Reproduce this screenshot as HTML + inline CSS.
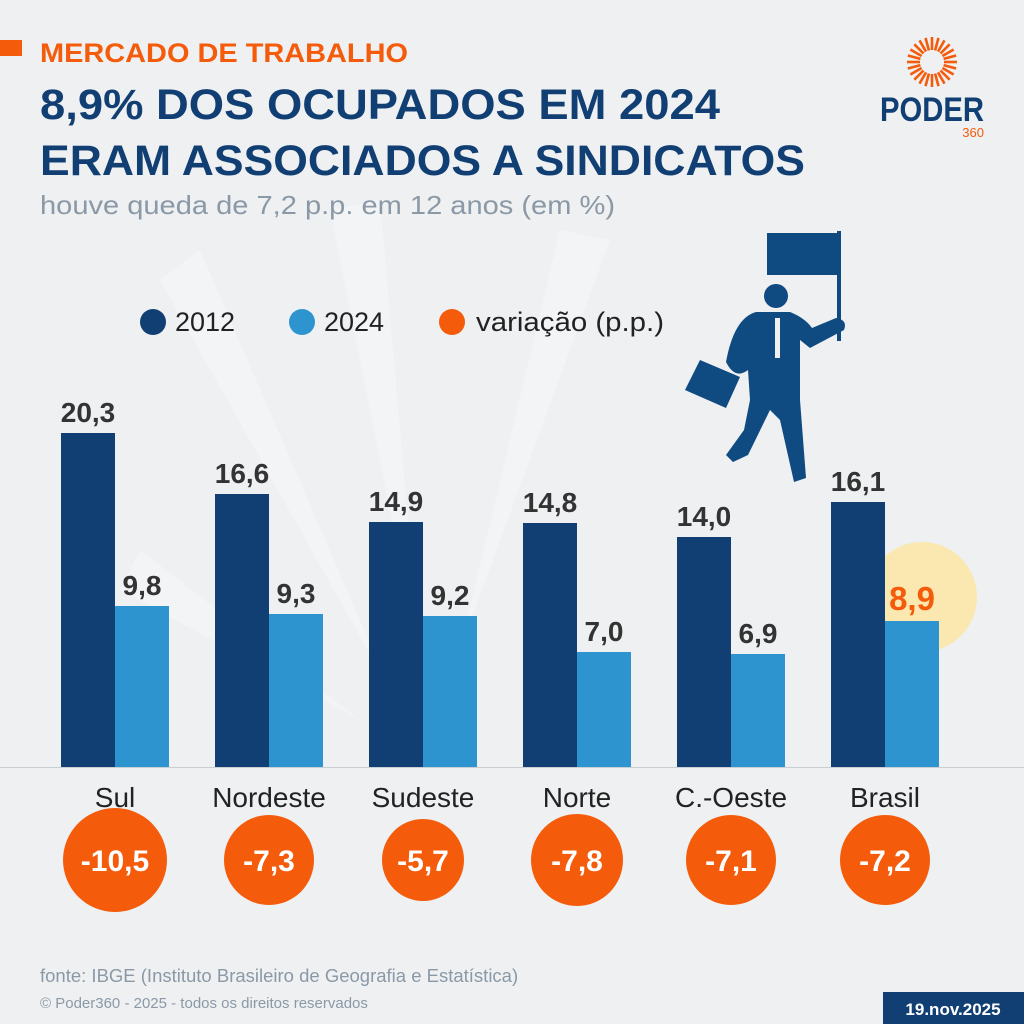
<!DOCTYPE html>
<html><head><meta charset="utf-8"><style>
body{margin:0;background:#eef0f2}
svg{display:block}
text{font-family:"Liberation Sans",sans-serif}
</style></head><body>
<svg width="1024" height="1024" viewBox="0 0 1024 1024">
<rect width="1024" height="1024" fill="#eef0f2"/>
<g fill="#f3f4f6">
<polygon points="390,690 160,280 200,250"/>
<polygon points="420,660 330,210 380,200"/>
<polygon points="460,650 560,230 610,240"/>
<polygon points="360,720 120,590 140,550"/>
</g>
<rect x="0" y="40" width="22" height="16" fill="#f45b0b"/>
<text x="40" y="62" font-size="27" font-weight="bold" fill="#f45b0b" textLength="368" lengthAdjust="spacingAndGlyphs">MERCADO DE TRABALHO</text>
<text x="40" y="119" font-size="43" font-weight="bold" fill="#123f73" textLength="680" lengthAdjust="spacingAndGlyphs">8,9% DOS OCUPADOS EM 2024</text>
<text x="40" y="175" font-size="43" font-weight="bold" fill="#123f73" textLength="765" lengthAdjust="spacingAndGlyphs">ERAM ASSOCIADOS A SINDICATOS</text>
<text x="40" y="214" font-size="26" fill="#8b99a6" textLength="575" lengthAdjust="spacingAndGlyphs">houve queda de 7,2 p.p. em 12 anos (em %)</text>
<g transform="translate(932,62)" stroke="#f45b0b" stroke-width="2.6">
<line x1="0" y1="-12" x2="0" y2="-25" transform="rotate(0)"/><line x1="0" y1="-12" x2="0" y2="-25" transform="rotate(15)"/><line x1="0" y1="-12" x2="0" y2="-25" transform="rotate(30)"/><line x1="0" y1="-12" x2="0" y2="-25" transform="rotate(45)"/><line x1="0" y1="-12" x2="0" y2="-25" transform="rotate(60)"/><line x1="0" y1="-12" x2="0" y2="-25" transform="rotate(75)"/><line x1="0" y1="-12" x2="0" y2="-25" transform="rotate(90)"/><line x1="0" y1="-12" x2="0" y2="-25" transform="rotate(105)"/><line x1="0" y1="-12" x2="0" y2="-25" transform="rotate(120)"/><line x1="0" y1="-12" x2="0" y2="-25" transform="rotate(135)"/><line x1="0" y1="-12" x2="0" y2="-25" transform="rotate(150)"/><line x1="0" y1="-12" x2="0" y2="-25" transform="rotate(165)"/><line x1="0" y1="-12" x2="0" y2="-25" transform="rotate(180)"/><line x1="0" y1="-12" x2="0" y2="-25" transform="rotate(195)"/><line x1="0" y1="-12" x2="0" y2="-25" transform="rotate(210)"/><line x1="0" y1="-12" x2="0" y2="-25" transform="rotate(225)"/><line x1="0" y1="-12" x2="0" y2="-25" transform="rotate(240)"/><line x1="0" y1="-12" x2="0" y2="-25" transform="rotate(255)"/><line x1="0" y1="-12" x2="0" y2="-25" transform="rotate(270)"/><line x1="0" y1="-12" x2="0" y2="-25" transform="rotate(285)"/><line x1="0" y1="-12" x2="0" y2="-25" transform="rotate(300)"/><line x1="0" y1="-12" x2="0" y2="-25" transform="rotate(315)"/><line x1="0" y1="-12" x2="0" y2="-25" transform="rotate(330)"/><line x1="0" y1="-12" x2="0" y2="-25" transform="rotate(345)"/>
</g>
<text x="932" y="121" font-size="34" font-weight="bold" fill="#123f73" text-anchor="middle" textLength="104" lengthAdjust="spacingAndGlyphs">PODER</text>
<text x="984" y="137" font-size="13" fill="#f45b0b" text-anchor="end">360</text>
<circle cx="153" cy="322" r="13" fill="#123f73"/><text x="175" y="331" font-size="27" fill="#222">2012</text>
<circle cx="302" cy="322" r="13" fill="#2e94d0"/><text x="324" y="331" font-size="27" fill="#222">2024</text>
<circle cx="452" cy="322" r="13" fill="#f45b0b"/><text x="476" y="331" font-size="27" fill="#222" textLength="188" lengthAdjust="spacingAndGlyphs">variação (p.p.)</text>
<g fill="#0f4a80" stroke="none">
<rect x="767" y="233" width="73" height="42"/>
<rect x="837" y="231" width="4" height="110"/>
<circle cx="776" cy="296" r="12"/>
<path d="M756 312 L790 312 Q805 318 812 328 L836 318 Q848 320 844 330 L810 348 L800 340 L800 400 L806 478 L794 482 L780 420 L770 410 L748 455 L733 462 L726 455 L744 430 L750 400 L748 370 Q735 380 726 362 Q734 318 756 312Z"/>
<polygon points="685,390 700,360 740,377 726,408"/>
</g>
<rect x="775" y="318" width="5" height="40" fill="#eef0f2"/>
<line x1="0" y1="767.5" x2="1024" y2="767.5" stroke="#c9ced3" stroke-width="1"/>
<circle cx="922" cy="597" r="55" fill="#fbe7b0"/>
<g font-size="28" font-weight="bold" fill="#333" text-anchor="middle">
<rect x="61" y="433" width="54" height="334" fill="#123f73"/><rect x="115" y="606" width="54" height="161" fill="#2e94d0"/>
<text x="88" y="422">20,3</text><text x="142" y="595">9,8</text>
<rect x="215" y="494" width="54" height="273" fill="#123f73"/><rect x="269" y="614" width="54" height="153" fill="#2e94d0"/>
<text x="242" y="483">16,6</text><text x="296" y="603">9,3</text>
<rect x="369" y="522" width="54" height="245" fill="#123f73"/><rect x="423" y="616" width="54" height="151" fill="#2e94d0"/>
<text x="396" y="511">14,9</text><text x="450" y="605">9,2</text>
<rect x="523" y="523" width="54" height="244" fill="#123f73"/><rect x="577" y="652" width="54" height="115" fill="#2e94d0"/>
<text x="550" y="512">14,8</text><text x="604" y="641">7,0</text>
<rect x="677" y="537" width="54" height="230" fill="#123f73"/><rect x="731" y="654" width="54" height="113" fill="#2e94d0"/>
<text x="704" y="526">14,0</text><text x="758" y="643">6,9</text>
<rect x="831" y="502" width="54" height="265" fill="#123f73"/><rect x="885" y="621" width="54" height="146" fill="#2e94d0"/>
<text x="858" y="491">16,1</text><text x="912" y="610" fill="#f45b0b" font-size="33">8,9</text>
</g>
<g font-size="28" fill="#222" text-anchor="middle">
<text x="115" y="807">Sul</text><text x="269" y="807">Nordeste</text><text x="423" y="807">Sudeste</text><text x="577" y="807">Norte</text><text x="731" y="807">C.-Oeste</text><text x="885" y="807">Brasil</text>
</g>
<g fill="#f45b0b">
<circle cx="115" cy="860" r="52"/><circle cx="269" cy="860" r="45"/><circle cx="423" cy="860" r="41"/><circle cx="577" cy="860" r="46"/><circle cx="731" cy="860" r="45"/><circle cx="885" cy="860" r="45"/>
</g>
<g font-size="30" font-weight="bold" fill="#fff" text-anchor="middle">
<text x="115" y="871">-10,5</text><text x="269" y="871">-7,3</text><text x="423" y="871">-5,7</text><text x="577" y="871">-7,8</text><text x="731" y="871">-7,1</text><text x="885" y="871">-7,2</text>
</g>
<text x="40" y="982" font-size="18.5" fill="#8b99a6">fonte: IBGE (Instituto Brasileiro de Geografia e Estatística)</text>
<text x="40" y="1008" font-size="15" fill="#8b99a6">© Poder360 - 2025 - todos os direitos reservados</text>
<rect x="883" y="992" width="141" height="32" fill="#123f73"/>
<text x="953" y="1015" font-size="17" font-weight="bold" fill="#fff" text-anchor="middle">19.nov.2025</text>
</svg>
</body></html>
